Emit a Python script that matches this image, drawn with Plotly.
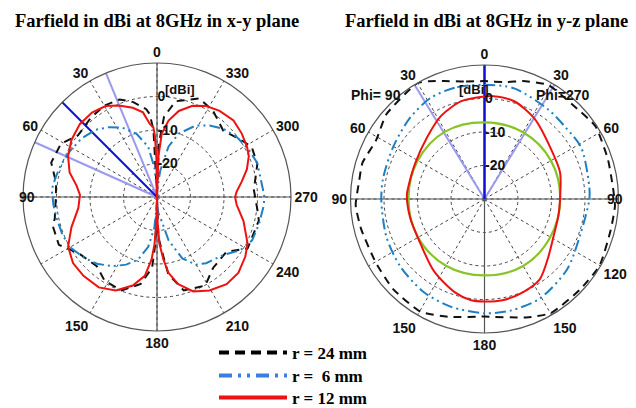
import plotly.graph_objects as go

# ---------------- data: x-y plane (dBi) ----------------
xy_red_theta = [0, 1, 2, 3, 5.6, 9.4, 15.2, 22.5, 29.5, 37.6, 46.5, 56.3, 65.4, 74.3, 81.8, 88.5,
                97.9, 109.5, 119.2, 128.2, 137, 147.2, 156.2, 164.7, 171.2, 175, 177, 178.5, 180,
                181.5, 183, 185.9, 188.6, 193.7, 201, 209.3, 218.6, 227.1, 236, 242.8, 254.5, 264.4,
                270, 273.7, 280.3, 287.2, 294, 299.3, 306.8, 315, 324, 331.6, 338.7, 345.8, 351.4,
                355.7, 358, 360]
xy_red_db = [-30.0, -18.0, -11.6, -9.2, -8.1, -4.4, -2.4, -0.4, 1.2, 1.8, 1.7, 0.7, -0.8, -2.9, -5.7, -7.0,
             -6.3, -2.9, 0.4, 1.9, 2.2, 2.1, 0.5, -2.6, -6.2, -11.2, -16.0, -22.0, -30.0,
             -22.0, -16.0, -11.2, -7.1, -3.2, 0.2, 2.0, 3.3, 3.2, 1.8, 0.4, -3.2, -6.1,
             -6.7, -6.2, -4.3, -1.9, 0.0, 0.8, 1.6, 2.3, 1.8, 0.9, -0.8, -3.5, -6.9,
             -11.0, -18.0, -30.0]

xy_blue_theta = [0, 5, 10, 18.1, 26.5, 34.5, 42.5, 52.2, 62.4, 72.1, 79.9, 86, 94.3, 102.4, 112.3, 121,
                 130.4, 138, 147.2, 155.4, 163.1, 170, 175, 180, 185, 191, 194.9, 202.4, 209.9, 216.6,
                 228.8, 237.4, 245.5, 255, 265.8, 271, 280.5, 288.9, 297.3, 307, 315.9, 323.7, 331.5,
                 341, 347.1, 353, 360]
xy_blue_db = [-28.0, -21.2, -14.7, -10.1, -6.9, -4.7, -2.8, -1.5, -0.6, 0.3, 0.9, 1.5, 1.0, 0.6, 0.4, -0.2,
              -1.8, -3.2, -5.4, -7.8, -10.4, -14.9, -20.8, -28.0, -25.2, -22.7, -16.6, -10.2, -6.7, -5.4,
              -3.7, -0.5, 1.2, 1.5, 2.0, 2.0, 1.4, 1.6, 0.8, -0.2, -1.6, -3.5, -5.7,
              -10.0, -14.5, -22.0, -28.0]

xy_black_theta = [0, 3, 5, 7, 14, 21, 30, 40, 52, 61, 72, 82, 90, 102, 105.5, 116, 125.6, 139, 148,
                  159.3, 169.4, 176, 178, 180, 182, 186, 188.4, 196, 208.6, 218.3, 231.8, 240.4, 257,
                  262.8, 274.2, 288.1, 298, 304.2, 315, 327, 336.8, 349.1, 355, 358, 360]
xy_black_db = [-30.0, -10.0, -5.2, -3.6, -0.8, 1.2, 1.5, 0.8, -0.1, 2.8, 3.2, 0.4, 0.2, 1.2, 2.3, 2.6, -1.2, -2.6, -0.5,
               -0.2, -3.6, -8.8, -16.0, -30.0, -18.0, -12.4, -6.6, -1.0, 0.1, -3.0, -3.6, 1.1, 1.2,
               0.2, -1.0, 1.5, 2.0, 0.3, -2.0, 0.7, 2.0, -0.9, -6.0, -14.0, -30.0]

xy_main_lobe_deg = 45.0
xy_3db_deg = [22.4, 65.9]

# ---------------- data: y-z plane (dBi) ----------------
yz_red_theta = [0, 13.3, 27.6, 42.7, 62.4, 79.9, 87, 104, 124.9, 145, 162.2, 172.5, 180, 190, 202.3,
                214.5, 227.9, 241, 258, 272, 289.3, 308.7, 327.9, 343.1, 355, 360]
yz_red_db = [0.6, 0.0, -2.0, -4.8, -6.7, -7.0, -6.8, -7.1, -6.7, -3.7, -0.8, 0.5, 0.6, 0.7, 0.1,
             -0.9, -4.3, -6.5, -7.4, -7.4, -6.1, -5.0, -1.8, 0.5, 0.8, 0.6]

yz_green_theta = [0, 30, 60, 90, 120, 150, 180, 210, 240, 270, 300, 330, 360]
yz_green_db = [-7.1, -6.7, -7.0, -7.3, -7.1, -7.0, -7.2, -6.9, -7.3, -7.4, -7.1, -7.0, -7.1]

yz_blue_theta = [0, 15, 28, 42.3, 60.1, 78.8, 91, 111.2, 128.5, 147, 162.8, 180, 193.5, 209, 229.5,
                 250, 270, 277.5, 297.9, 311.6, 324.6, 345, 360]
yz_blue_db = [4.1, 4.4, 4.2, 2.9, 1.4, 0.9, 0.8, 1.4, 2.2, 3.2, 3.7, 4.1, 4.2, 4.0, 2.4,
              0.5, 1.3, 1.5, 2.7, 2.3, 2.8, 4.2, 4.1]

yz_black_theta = [0, 10, 18.8, 25, 30, 49.2, 61.5, 73.5, 82, 92.7, 103.7, 120.6, 134.6, 150.4, 163.6,
                  180, 199.4, 210.2, 226.7, 240, 256.3, 267, 275, 287.8, 303.3, 317.1, 330.7, 342, 350, 360]
yz_black_db = [5.2, 5.6, 7.2, 8.8, 10.0, 8.7, 6.8, 8.0, 7.8, 8.5, 7.9, 7.6, 8.3, 8.7, 6.7,
               5.1, 7.5, 9.4, 9.3, 9.7, 8.8, 9.0, 8.5, 8.7, 9.6, 8.5, 9.0, 7.0, 5.4, 5.2]

yz_main_lobe_deg = 0.0
yz_3db_deg = [31.5, 328.5]

# ---------------- axis / labels ----------------
r_min, r_max = -30, 10
radial_ticks = [-20, -10, 0]
angle_ticks = list(range(0, 360, 30))
# the two labels that sit right on the outer circle ("90" left in x-y, "90" right in y-z) are set as text below
xy_angle_labels = ["0", "30", "60", "", "", "150", "180", "210", "240", "270", "300", "330"]
yz_angle_labels = ["0", "30", "60", "90", "", "150", "180", "150", "120", "", "60", "30"]
legend_names = ["r = 24 mm", "r = \u00a06 mm", "r = 12 mm"]

RED = "#ee1111"
BLUE = "#1f7fc4"
BLACK = "#111111"
GREEN = "#88c425"
DKBLUE = "#1010d0"
LTBLUE = "#9a9af0"
GRID = "#444444"

BLACK_DASH = "8px,6px"
BLUE_DASH = "11px,4px,2px,4px,2px,4px"

fig = go.Figure()


def cross(sub):
    for a, b in [(0, 180), (90, 270)]:
        fig.add_trace(go.Scatterpolar(r=[r_max, r_min, r_max], theta=[a, a, b], mode="lines",
                                      line=dict(color="#555555", width=1.2), showlegend=False,
                                      hoverinfo="skip", subplot=sub))


def spoke(sub, ang, color, width):
    fig.add_trace(go.Scatterpolar(r=[r_min, r_max], theta=[ang, ang], mode="lines",
                                  line=dict(color=color, width=width), showlegend=False,
                                  hoverinfo="skip", subplot=sub))


def curve(sub, r, th, color, dash, width=2, shape="linear", smoothing=0.8):
    line = dict(color=color, width=width, dash=dash, shape=shape)
    if shape == "spline":
        line["smoothing"] = smoothing
    fig.add_trace(go.Scatterpolar(r=r, theta=th, mode="lines", showlegend=False, subplot=sub, line=line))


# left: x-y plane
cross("polar")
for a in xy_3db_deg:
    spoke("polar", a, LTBLUE, 2)
spoke("polar", xy_main_lobe_deg, DKBLUE, 2)
curve("polar", xy_black_db, xy_black_theta, BLACK, BLACK_DASH)
curve("polar", xy_blue_db, xy_blue_theta, BLUE, BLUE_DASH)
curve("polar", xy_red_db, xy_red_theta, RED, "solid")

# right: y-z plane
cross("polar2")
for a in yz_3db_deg:
    spoke("polar2", a, LTBLUE, 2)
spoke("polar2", yz_main_lobe_deg, DKBLUE, 2.5)
curve("polar2", yz_black_db, yz_black_theta, BLACK, BLACK_DASH, shape="spline", smoothing=0.5)
curve("polar2", yz_blue_db, yz_blue_theta, BLUE, BLUE_DASH, shape="spline")
curve("polar2", yz_green_db, yz_green_theta, GREEN, "solid", width=2.2, shape="spline", smoothing=1.0)
curve("polar2", yz_red_db, yz_red_theta, RED, "solid", shape="spline")

# the page body has an 8px margin, so the figure is 8px smaller and all positions shift by 8
OFF = 8
W, H = 636 - OFF, 408 - OFF
R = 134


def px(x):
    return (x - OFF) / W


def py(y):
    return 1 - (y - OFF) / H


# legend entries (thicker line samples, as in the figure key), one small legend per row
legend_ids = ["legend", "legend2", "legend3"]
legend_rows_y = [353, 376, 398]
for name, color, dash, lid in zip(legend_names, ["#000000", "#3a7fe0", RED],
                                  ["10px,6px", "13px,6px,3px,6px,3px,6px", "solid"], legend_ids):
    fig.add_trace(go.Scatterpolar(r=[None], theta=[None], mode="lines", name=name, legend=lid,
                                  line=dict(color=color, width=4, dash=dash), subplot="polar"))

legend_style = dict(x=px(214), xanchor="left", yanchor="middle", bgcolor="rgba(0,0,0,0)",
                    font=dict(family="Liberation Serif", size=17, color="#000000", weight="bold"),
                    itemwidth=68)


def dom(cx, cy):
    return dict(x=[px(cx - R), px(cx + R)], y=[py(cy + R), py(cy - R)])


def polar_layout(cx, cy, labels):
    return dict(
        domain=dom(cx, cy),
        bgcolor="white",
        angularaxis=dict(rotation=90, direction="counterclockwise", tickvals=angle_ticks, ticktext=labels,
                         ticks="", ticklen=0, showline=True, linecolor="#555555", linewidth=1.2,
                         showgrid=True, gridcolor=GRID, gridwidth=1, griddash="3px,3px",
                         tickfont=dict(family="Liberation Sans", size=14, color="#111111", weight="bold")),
        radialaxis=dict(range=[r_min, r_max], tickvals=radial_ticks, ticktext=[str(v) for v in radial_ticks],
                        angle=90, tickangle=90, showline=False, ticks="", side="clockwise",
                        showgrid=True, gridcolor=GRID, gridwidth=1, griddash="3px,3px",
                        tickfont=dict(family="Liberation Sans", size=14, color="#111111", weight="bold")),
    )


fig.update_layout(
    width=W, height=H, autosize=False,
    margin=dict(l=0, r=0, t=0, b=0, autoexpand=False),
    paper_bgcolor="white",
    polar=polar_layout(157, 197, xy_angle_labels),
    polar2=polar_layout(484.5, 199, yz_angle_labels),
    showlegend=True,
    legend=dict(legend_style, y=py(legend_rows_y[0])),
    legend2=dict(legend_style, y=py(legend_rows_y[1])),
    legend3=dict(legend_style, y=py(legend_rows_y[2])),
)

serif = dict(family="Liberation Serif", size=18.5, color="#000000", weight="bold")
sans = dict(family="Liberation Sans", size=14, color="#111111", weight="bold")
small = dict(family="Liberation Sans", size=13, color="#111111", weight="bold")
fig.add_annotation(x=px(157), y=py(21), xref="paper", yref="paper", text="Farfield in dBi at 8GHz in x-y plane",
                   showarrow=False, font=serif, xanchor="center", yanchor="middle")
fig.add_annotation(x=px(486), y=py(21), xref="paper", yref="paper", text="Farfield in dBi at 8GHz in y-z plane",
                   showarrow=False, font=serif, xanchor="center", yanchor="middle")
fig.add_annotation(x=px(163), y=py(80), xref="paper", yref="paper", text="[dBi]", showarrow=False, font=small)
fig.add_annotation(x=px(491), y=py(80), xref="paper", yref="paper", text="[dBi]", showarrow=False, font=small)
fig.add_annotation(x=px(376), y=py(85), xref="paper", yref="paper", text="Phi= 90", showarrow=False, font=sans)
fig.add_annotation(x=px(592), y=py(85), xref="paper", yref="paper", text="Phi=270", showarrow=False, font=sans)
fig.add_annotation(x=px(17), y=py(197), xref="paper", yref="paper", text="90", showarrow=False, font=sans)
fig.add_annotation(x=px(625), y=py(199), xref="paper", yref="paper", text="90", showarrow=False, font=sans)

fig.write_html("out.html")
